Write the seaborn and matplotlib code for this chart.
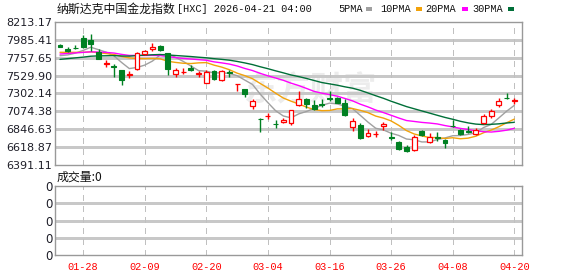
import numpy as np
import pandas as pd
import matplotlib
matplotlib.use("Agg")
import matplotlib.pyplot as plt
import seaborn as sns
from matplotlib.patches import Rectangle

# ---------------- data ----------------
dates = ["01-23", "01-26", "01-27", "01-28", "01-29", "01-30",
         "02-02", "02-03", "02-04", "02-05", "02-06",
         "02-09", "02-10", "02-11", "02-12", "02-13",
         "02-17", "02-18", "02-19", "02-20",
         "02-23", "02-24", "02-25", "02-26", "02-27",
         "03-02", "03-03", "03-04", "03-05", "03-06",
         "03-09", "03-10", "03-11", "03-12", "03-13",
         "03-16", "03-17", "03-18", "03-19", "03-20",
         "03-23", "03-24", "03-25", "03-26", "03-27",
         "03-30", "03-31", "04-01", "04-02",
         "04-06", "04-07", "04-08", "04-09", "04-10",
         "04-13", "04-14", "04-15", "04-16", "04-17", "04-20"]

opens = [7925, 7869, 7880, 8005, 7984, 7830, 7680, 7650, 7600, 7535,
         7612, 7800, 7866, 7905, 7812, 7552, 7575, 7622, 7555, 7440,
         7590, 7476, 7575, 7420, 7358, 7145, 6980, 7010, 6918, 6945,
         6930, 7158, 7228, 7150, 7170, 7240, 7250, 7175, 6878, 6905,
         6766, 6780, 6890, 6750, 6690, 6620, 6585, 6826, 6690, 6748,
         6710, 6892, 6836, 6822, 6788, 6922, 7010, 7158, 7245, 7205]
highs = [7935, 7890, 7925, 8047, 8065, 7865, 7725, 7675, 7605, 7585,
         7825, 7860, 7950, 7922, 7822, 7628, 7630, 7660, 7590, 7602,
         7602, 7602, 7602, 7428, 7362, 7230, 6985, 7050, 6965, 6990,
         7095, 7335, 7240, 7220, 7230, 7338, 7262, 7228, 6986, 6920,
         6855, 6820, 6940, 6815, 6697, 6646, 6770, 6838, 6795, 6807,
         6718, 6964, 6850, 6888, 6858, 7035, 7110, 7245, 7305, 7242]
lows = [7895, 7825, 7868, 7885, 7840, 7738, 7645, 7515, 7412, 7495,
        7605, 7788, 7840, 7840, 7540, 7518, 7545, 7595, 7508, 7432,
        7475, 7466, 7516, 7338, 7262, 7105, 6815, 6972, 6858, 6922,
        6905, 7143, 7120, 7090, 7128, 7210, 7175, 7010, 6820, 6725,
        6745, 6752, 6840, 6712, 6580, 6552, 6574, 6762, 6667, 6700,
        6612, 6870, 6773, 6805, 6773, 6913, 6995, 7135, 7238, 7172]
closes = [7900, 7848, 7876, 7900, 7933, 7745, 7690, 7642, 7478, 7545,
          7814, 7840, 7898, 7860, 7618, 7598, 7582, 7605, 7565, 7580,
          7490, 7588, 7565, 7425, 7298, 7210, 6975, 7020, 6910, 6965,
          7090, 7228, 7170, 7105, 7160, 7235, 7178, 7022, 6950, 6735,
          6800, 6790, 6915, 6740, 6593, 6572, 6744, 6775, 6744, 6740,
          6676, 6885, 6788, 6815, 6840, 7012, 7085, 7205, 7240, 7213]
# closes before the visible window, estimated from where the MA lines start
prior_closes = [7560, 7590, 7620, 7580, 7610, 7650, 7590, 7620, 7600, 7590,
                7700, 7740, 7760, 7790, 7810, 7780, 7800, 7820, 7810, 7820,
                7850, 7880, 7900, 7870, 7850,
                7800, 7760, 7730, 7730]

ma_windows = [5, 10, 20, 30]
ma_labels = ["5PMA", "10PMA", "20PMA", "30PMA"]
ma_colors = ["#a0a0a0", "#f2a20a", "#ff00ff", "#006f38"]

ytick_values = [6391.11, 6618.87, 6846.63, 7074.38, 7302.14,
                7529.90, 7757.65, 7985.41, 8213.17]
ytick_labels = ["6391.11", "6618.87", "6846.63", "7074.38", "7302.14",
                "7529.90", "7757.65", "7985.41", "8213.17"]
xtick_dates = ["01-28", "02-09", "02-20", "03-04", "03-16", "03-26", "04-08", "04-20"]
vol_tick_values = [0, 1, 2, 3, 4]
vol_tick_labels = ["0", "0", "0", "0", "0"]

title_cn = "纳斯达克中国金龙指数"
title_rest = "[HXC] 2026-04-21 04:00"
volume_title = "成交量:0"

# ---------------- style ----------------
sns.set_theme(style="whitegrid", rc={"grid.color": "#c8c8c8", "grid.linewidth": 1.0,
                                     "axes.edgecolor": "#999999"})
plt.rcParams["font.family"] = ["DejaVu Sans"]
plt.rcParams["axes.unicode_minus"] = False

RED = "#ff0000"
GREEN = "#008022"
GRID = "#c8c8c8"
VGRID = "#c0c0c0"
BORDER = "#999999"
TXT = "#1e1e28"

W, H = 578, 276
fig = plt.figure(figsize=(W / 100, H / 100), dpi=100)
fig.patch.set_facecolor("white")
ax = fig.add_axes([55 / W, 1 - 165 / H, 467 / W, 143 / H])
axv = fig.add_axes([55 / W, 1 - 255 / H, 467 / W, 69 / H])

n = len(dates)
xs = np.arange(n)
xt = [dates.index(d) for d in xtick_dates]

# ---------------- moving averages (seaborn) ----------------
all_close = pd.Series(prior_closes + closes, dtype=float)
rows = []
for w, lab in zip(ma_windows, ma_labels):
    ma = all_close.rolling(w).mean().iloc[-n:].to_numpy()
    rows.append(pd.DataFrame({"x": xs, "value": ma, "ma": lab}))
ma_df = pd.concat(rows, ignore_index=True)
sns.lineplot(data=ma_df, x="x", y="value", hue="ma", hue_order=ma_labels,
             palette=dict(zip(ma_labels, ma_colors)), linewidth=1.0,
             legend=False, ax=ax, zorder=3, estimator=None)

# ---------------- candles ----------------
o = np.array(opens, float); h = np.array(highs, float)
l = np.array(lows, float); c = np.array(closes, float)
up = c >= o
top = np.maximum(o, c); bot = np.minimum(o, c)
bw = 0.64
body_h = np.maximum(top - bot, 2.0)

ax.vlines(xs[~up], l[~up], h[~up], color=GREEN, linewidth=1.0, zorder=4)
ax.vlines(xs[up], top[up], h[up], color=RED, linewidth=1.0, zorder=4)
ax.vlines(xs[up], l[up], bot[up], color=RED, linewidth=1.0, zorder=4)
ax.bar(xs[~up], body_h[~up], bottom=bot[~up], width=bw, color=GREEN,
       edgecolor=GREEN, linewidth=0.8, zorder=5)
ax.bar(xs[up], body_h[up], bottom=bot[up], width=bw, color="white",
       edgecolor=RED, linewidth=0.9, zorder=5)

# watermark
ax.text(32.5, 7330, "东方财富", fontsize=24, fontweight="bold", color="#ececec",
        family=["Noto Sans CJK SC"], ha="center", va="center", zorder=1.0)

# ---------------- axes formatting ----------------
for a in (ax, axv):
    a.set_xlim(-0.65, 60.0)
    for s in a.spines.values():
        s.set_color(BORDER)
        s.set_linewidth(1.0)
        s.set_visible(True)
    a.set_xticks(xt)
    a.set_xlabel("")
    a.set_ylabel("")

ax.set_ylim(ytick_values[0], ytick_values[-1])
ax.set_yticks(ytick_values)
ax.set_yticklabels(ytick_labels, fontsize=8, color=TXT)
ax.set_xticklabels([])

axv.set_ylim(vol_tick_values[0], vol_tick_values[-1])
axv.set_yticks(vol_tick_values)
axv.set_yticklabels(vol_tick_labels, fontsize=8.5, color=TXT)
axv.set_xticklabels(xtick_dates, fontsize=7.4, color=RED, family=["Liberation Mono"])

for a in (ax, axv):
    a.tick_params(axis="both", length=0)
ax.tick_params(axis="y", pad=2)
axv.tick_params(axis="y", pad=2)
axv.tick_params(axis="x", pad=5)

# ---------------- grid lines: non-antialiased so they stay crisp ----------------
for a, yvals in ((ax, ytick_values), (axv, vol_tick_values)):
    a.grid(False)
    ylo, yhi = a.get_ylim()
    hl = a.hlines(yvals[1:-1], -0.65, 60.0, colors=GRID, linewidth=1.0, zorder=2.5)
    hl.set_antialiased(False)
    vl = a.vlines(xt, ylo, yhi, colors=VGRID, linewidth=1.0,
                  linestyles=(0, (4, 4)), zorder=2.5)
    vl.set_antialiased(False)
    a.set_xlim(-0.65, 60.0)
    a.set_ylim(ylo, yhi)

# ---------------- header texts ----------------
fig.text(57 / W, 1 - 9.5 / H, title_cn, fontsize=8.6, family=["Noto Sans CJK SC"],
         color="#111111", ha="left", va="center")
fig.text(177 / W, 1 - 9.5 / H, title_rest, fontsize=7.4, family=["Liberation Mono"],
         color="#111111", ha="left", va="center")

leg_text_x = [338, 380, 425, 472]
leg_sq_x = [366, 416, 462, 508]
for lab, col, tx, sx in zip(ma_labels, ma_colors, leg_text_x, leg_sq_x):
    fig.text(tx / W, 1 - 9.5 / H, lab, fontsize=7.4, family=["Liberation Mono"],
             color="#111111", ha="left", va="center")
    fig.add_artist(Rectangle((sx / W, 1 - 11 / H), 6 / W, 4 / H,
                             transform=fig.transFigure, facecolor=col,
                             edgecolor="none"))

fig.text(57 / W, 1 - 177 / H, volume_title, fontsize=8.6, family=["Noto Sans CJK SC", "DejaVu Sans"],
         color="#111111", ha="left", va="center")

fig.savefig("out.png", dpi=100, facecolor="white")
